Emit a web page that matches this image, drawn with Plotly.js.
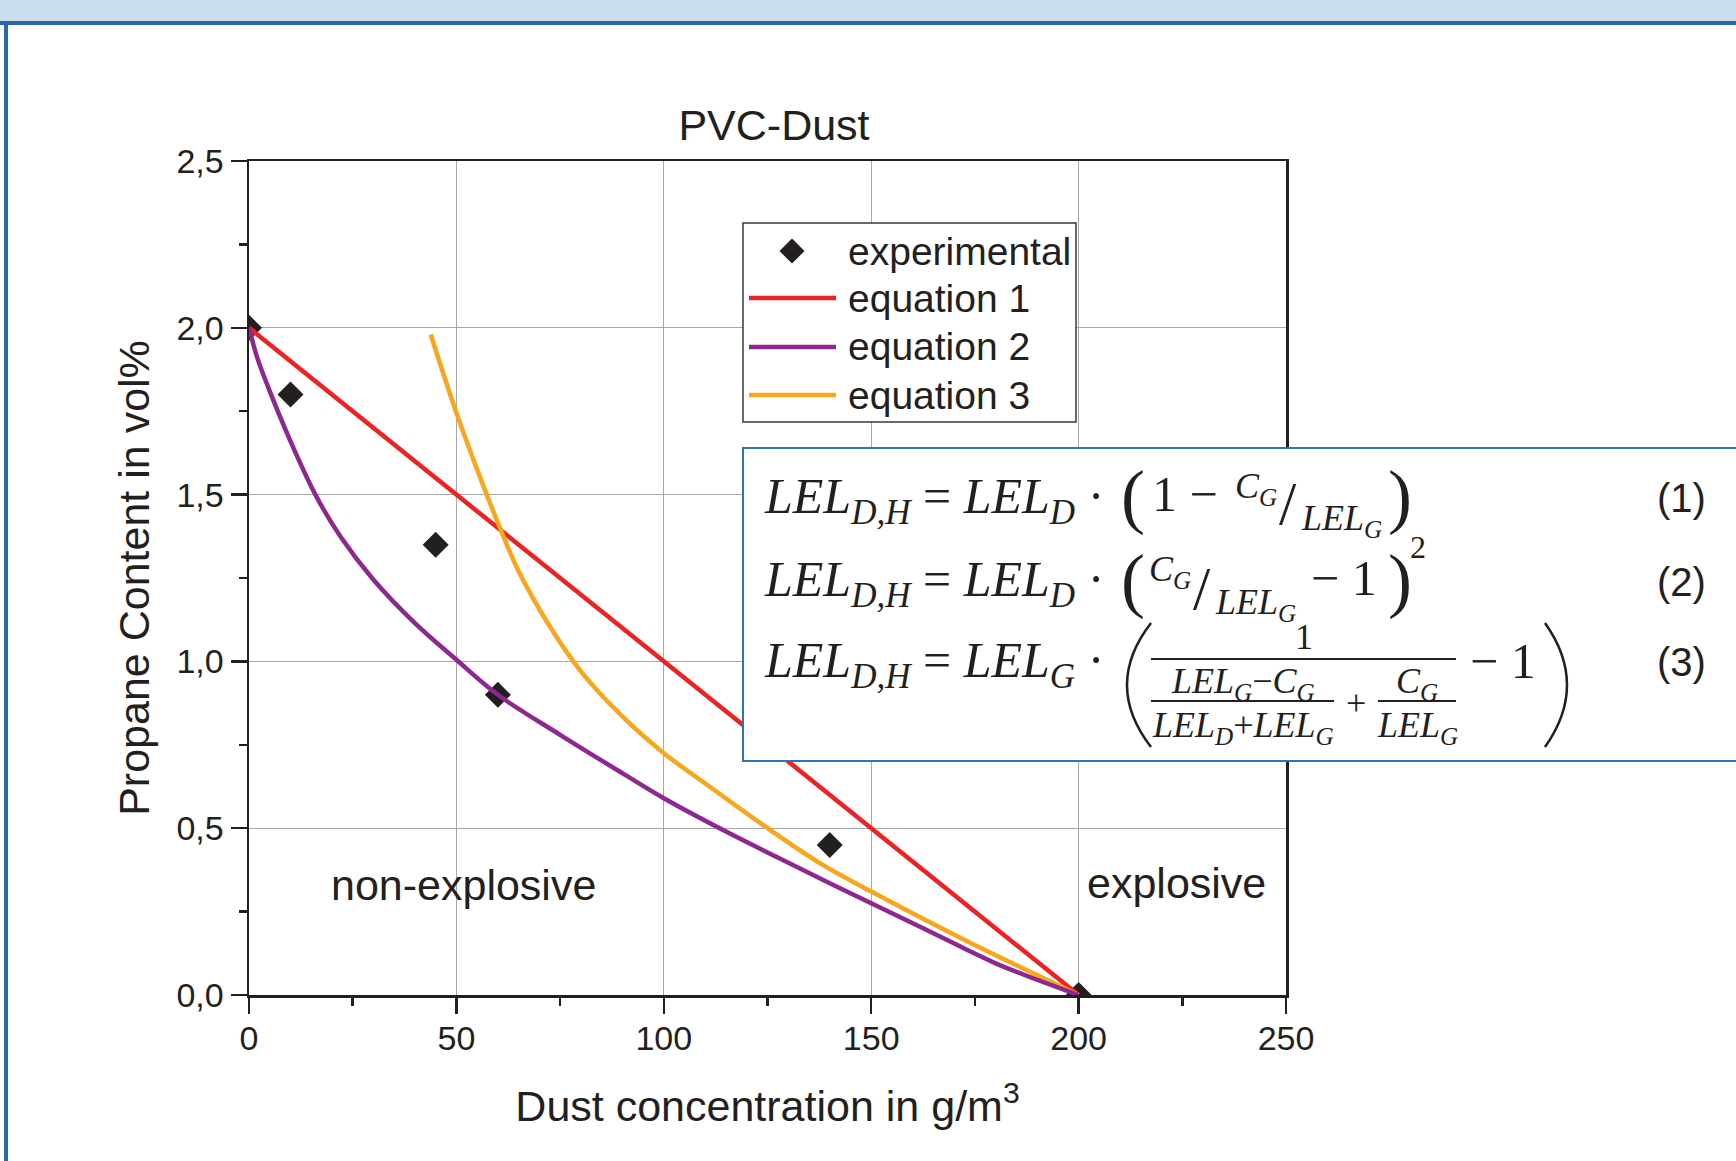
<!DOCTYPE html>
<html>
<head>
<meta charset="utf-8">
<script src="https://cdn.plot.ly/plotly-3.0.1.min.js"></script>
<style>
  html, body { margin: 0; padding: 0; background: #ffffff; }
  #chart { width: 1736px; height: 1161px; }
</style>
</head>
<body>
<div id="chart"></div>
<script>
// ---------------- data ----------------
const expX = [0, 10, 45, 60, 140, 200];
const expY = [2.0, 1.8, 1.35, 0.9, 0.45, 0.0];

const eq1X = [0, 200];
const eq1Y = [2.0, 0.0];

const eq2X = [0, 2, 5, 10, 16, 22, 30, 40, 50, 60, 75, 90, 100, 115, 127, 140, 150, 165, 180, 200];
const eq2Y = [2.0, 1.91, 1.81, 1.66, 1.50, 1.375, 1.245, 1.115, 1.005, 0.90, 0.78, 0.665, 0.59, 0.49, 0.415, 0.335, 0.275, 0.185, 0.095, 0.0];

const eq3X = [43.8, 50, 55, 60.5, 65, 72, 80, 90, 100, 111, 125, 137, 150, 173, 200];
const eq3Y = [1.98, 1.745, 1.575, 1.40, 1.27, 1.115, 0.97, 0.835, 0.725, 0.625, 0.50, 0.40, 0.31, 0.162, 0.0];

const seriesNames = ['experimental', 'equation 1', 'equation 2', 'equation 3'];
const xTitle = 'Dust concentration in g/m<sup>3</sup>';
const yTitle = 'Propane Content in vol%';
const chartTitle = 'PVC-Dust';
const regionLabels = ['non-explosive', 'explosive'];
const regionX = [51.8, 223.7];
const regionY = [0.33, 0.335];

// ---------------- styling ----------------
const INK = '#231f20';
const RED = '#ed2224';
const PURPLE = '#8e278f';
const ORANGE = '#f9a61c';
const SANS = 'Liberation Sans, Arial, sans-serif';
const SERIF = 'Liberation Serif, Times New Roman, serif';

// plot area in page pixels
const L = 249, R = 1286, T = 161, B = 995;
const W = 1736, H = 1161;
const px = X => (X - L) / (R - L);
const py = Y => (B - Y) / (B - T);

const traces = [
  { x: expX, y: expY, name: seriesNames[0], type: 'scatter', mode: 'markers',
    marker: { symbol: 'diamond', size: 20, color: INK }, showlegend: false },
  { x: eq1X, y: eq1Y, name: seriesNames[1], type: 'scatter', mode: 'lines',
    line: { color: RED, width: 4.5 }, showlegend: false },
  { x: eq3X, y: eq3Y, name: seriesNames[3], type: 'scatter', mode: 'lines',
    line: { color: ORANGE, width: 4.5, shape: 'spline', smoothing: 1 }, showlegend: false },
  { x: eq2X, y: eq2Y, name: seriesNames[2], type: 'scatter', mode: 'lines',
    line: { color: PURPLE, width: 4.5, shape: 'spline', smoothing: 1 }, showlegend: false }
];

const shapes = [];
const annotations = [];

function rect(x0, y0, x1, y1, fill, line, lw, layer) {
  shapes.push({ type: 'rect', xref: 'paper', yref: 'paper',
    x0: px(x0), x1: px(x1), y0: py(y1), y1: py(y0),
    fillcolor: fill, line: { color: line || fill, width: lw || 0 }, layer: layer || 'above' });
}
function hline(x0, x1, y, color, w) {
  shapes.push({ type: 'line', xref: 'paper', yref: 'paper',
    x0: px(x0), x1: px(x1), y0: py(y), y1: py(y), line: { color: color, width: w }, layer: 'above' });
}
function qpath(x0, y0, cx, cy, x1, y1, color, w) {
  shapes.push({ type: 'path', xref: 'paper', yref: 'paper',
    path: 'M' + px(x0) + ',' + py(y0) + ' Q' + px(cx) + ',' + py(cy) + ' ' + px(x1) + ',' + py(y1),
    line: { color: color, width: w }, layer: 'above' });
}
function txt(X, Y, text, size, family, xa, color) {
  annotations.push({ xref: 'paper', yref: 'paper', x: px(X), y: py(Y), text: text,
    showarrow: false, xanchor: xa || 'left', yanchor: 'middle',
    font: { family: family || SANS, size: size, color: color || INK } });
}

// page frame
rect(0, 0, W, 21, '#cbdeee', null, 0, 'below');
rect(0, 21, W, 25, '#2c68a6', null, 0, 'below');
rect(4, 21, 8, H, '#2c68a6', null, 0, 'below');

// legend (custom, to match the long line samples)
rect(743, 223, 1076, 422, '#ffffff', '#3a3a3a', 1.5, 'above');
shapes.push({ type: 'path', xref: 'paper', yref: 'paper', xsizemode: 'pixel', ysizemode: 'pixel',
  xanchor: px(792), yanchor: py(251), path: 'M0,12.5 L12.5,0 L0,-12.5 L-12.5,0 Z',
  fillcolor: INK, line: { width: 0 }, layer: 'above' });
hline(749, 836, 298, RED, 4.5);
hline(749, 836, 347, PURPLE, 4.5);
hline(749, 836, 395, ORANGE, 4.5);
txt(846, 251, seriesNames[0], 39);
txt(846, 298, seriesNames[1], 39);
txt(846, 347, seriesNames[2], 39);
txt(846, 395, seriesNames[3], 39);

// equation box
rect(743, 448, 1760, 761, '#ffffff', '#2e75b6', 2, 'above');
const lhs = '<i>LEL</i><sub><i>D,H</i></sub> = <i>LEL</i><sub><i>D</i></sub> ·';
const lhs3 = '<i>LEL</i><sub><i>D,H</i></sub> = <i>LEL</i><sub><i>G</i></sub> ·';
// (1)
txt(762, 500, lhs, 50, SERIF);
txt(1119, 496, '(', 72, SERIF);
txt(1150, 494, '1 −', 50, SERIF);
txt(1233, 488, '<i>C</i><sub><i>G</i></sub>', 36, SERIF);
txt(1277, 503, '/', 62, SERIF);
txt(1299, 520, '<i>LEL</i><sub><i>G</i></sub>', 36, SERIF);
txt(1386, 496, ')', 72, SERIF);
txt(1655, 498, '(1)', 40, SANS);
// (2)
txt(762, 583, lhs, 50, SERIF);
txt(1119, 580, '(', 72, SERIF);
txt(1147, 571, '<i>C</i><sub><i>G</i></sub>', 36, SERIF);
txt(1191, 588, '/', 62, SERIF);
txt(1213, 604, '<i>LEL</i><sub><i>G</i></sub>', 36, SERIF);
txt(1309, 578, '− 1', 50, SERIF);
txt(1386, 580, ')', 72, SERIF);
txt(1408, 547, '2', 32, SERIF);
txt(1655, 582, '(2)', 40, SANS);
// (3)
txt(762, 664, lhs3, 50, SERIF);
qpath(1151, 623, 1103, 685, 1151, 747, INK, 2.5);
qpath(1545, 623, 1589, 685, 1545, 747, INK, 2.5);
txt(1304, 637, '1', 36, SERIF, 'center');
hline(1151, 1456, 659, INK, 2);
txt(1243, 683, '<i>LEL</i><sub><i>G</i></sub>−<i>C</i><sub><i>G</i></sub>', 36, SERIF, 'center');
hline(1151, 1334, 701, INK, 2);
txt(1243, 727, '<i>LEL</i><sub><i>D</i></sub>+<i>LEL</i><sub><i>G</i></sub>', 36, SERIF, 'center');
txt(1356, 703, '+', 36, SERIF, 'center');
txt(1417, 683, '<i>C</i><sub><i>G</i></sub>', 36, SERIF, 'center');
hline(1378, 1456, 701, INK, 2);
txt(1417, 727, '<i>LEL</i><sub><i>G</i></sub>', 36, SERIF, 'center');
txt(1468, 661, '− 1', 50, SERIF);
txt(1655, 662, '(3)', 40, SANS);

// region labels (data coordinates)
for (let i = 0; i < regionLabels.length; i++) {
  annotations.push({ xref: 'x', yref: 'y', x: regionX[i], y: regionY[i], text: regionLabels[i],
    showarrow: false, xanchor: 'center', yanchor: 'middle', font: { family: SANS, size: 43, color: INK } });
}

const axisCommon = {
  showline: true, linecolor: INK, linewidth: 2.5, mirror: true,
  ticks: 'outside', ticklen: 16, tickwidth: 2.5, tickcolor: INK,
  showgrid: true, gridcolor: '#a8a8a8', gridwidth: 1, zeroline: false,
  tickfont: { family: SANS, size: 34, color: INK }
};

const layout = {
  width: W, height: H,
  paper_bgcolor: '#ffffff', plot_bgcolor: '#ffffff',
  margin: { l: L, r: W - R, t: T, b: H - B, pad: 0 },
  separators: ', ',
  showlegend: false,
  title: { text: chartTitle, font: { family: SANS, size: 43, color: INK },
    x: 774 / W, xref: 'container', xanchor: 'center', y: 1 - 125 / H, yref: 'container', yanchor: 'middle' },
  xaxis: Object.assign({}, axisCommon, {
    range: [0, 250], tick0: 0, dtick: 50, ticklabelstandoff: -4,
    minor: { dtick: 25, ticks: 'outside', ticklen: 8, tickwidth: 2.5, tickcolor: INK, showgrid: false },
    title: { text: xTitle, font: { family: SANS, size: 43, color: INK }, standoff: 35 }
  }),
  yaxis: Object.assign({}, axisCommon, {
    range: [0, 2.5], tick0: 0, dtick: 0.5, tickformat: '.1f',
    minor: { dtick: 0.25, ticks: 'outside', ticklen: 8, tickwidth: 2.5, tickcolor: INK, showgrid: false },
    title: { text: yTitle, font: { family: SANS, size: 43, color: INK }, standoff: 14 }
  }),
  shapes: shapes,
  annotations: annotations
};

Plotly.newPlot('chart', traces, layout, { displayModeBar: false, staticPlot: true });
</script>
</body>
</html>
